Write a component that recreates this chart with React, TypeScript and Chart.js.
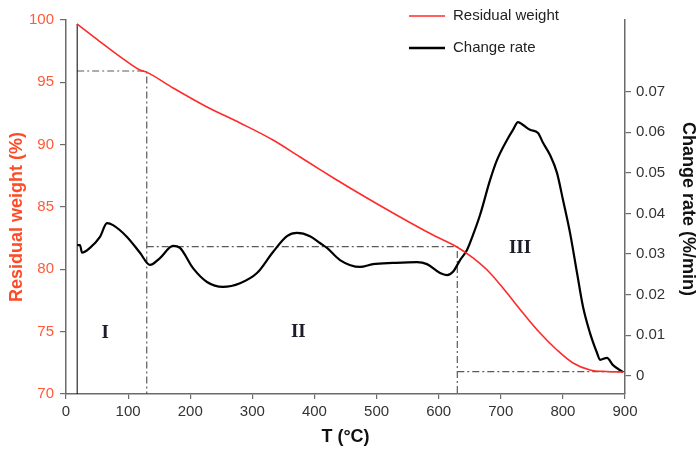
import React, { useEffect, useRef } from 'react';
import { Chart, registerables } from 'chart.js';

Chart.register(...registerables);

// Residual weight (%) vs temperature (°C)
const weightT = [17.7, 50, 83.7, 119, 130.4, 172.3, 227, 280.2, 333.3, 376.8, 409, 430, 484.6, 537.8, 590.9, 629.5, 655.3, 682.7, 710, 735.8, 763.2, 790.5, 816.3, 843.7, 870, 896.8];
const weightVals = [99.68, 98.45, 97.19, 95.99, 95.8, 94.55, 93.02, 91.74, 90.37, 89.01, 88.0, 87.35, 85.72, 84.2, 82.75, 81.79, 80.91, 79.71, 78.1, 76.5, 74.89, 73.53, 72.49, 71.93, 71.8, 71.77];

// Change rate (%/min) vs temperature (°C)
const rateT = [18, 22.5, 25.8, 38.6, 54.7, 66, 75.7, 98.2, 119.1, 135.2, 151.3, 172.3, 183.5, 204.5, 227, 252.8, 280.2, 307.5, 333.3, 355.8, 371.9, 392.8, 408.9, 420.2, 441.1, 473.3, 494.3, 526.5, 565.1, 581.2, 602.2, 613.4, 623.1, 634.4, 645.6, 655.3, 666.6, 682.7, 694, 710, 719.7, 727.8, 735.8, 747.1, 760, 768, 779.3, 790.5, 800.2, 811.5, 822.8, 832.4, 843.7, 855, 859.8, 871, 880.7, 896.8];
const rateVals = [0.0322, 0.0322, 0.0303, 0.0315, 0.0342, 0.0376, 0.0371, 0.0342, 0.0303, 0.0273, 0.029, 0.032, 0.0315, 0.0265, 0.0231, 0.0219, 0.0228, 0.0253, 0.0305, 0.0344, 0.0352, 0.0344, 0.0327, 0.0315, 0.0285, 0.0268, 0.0275, 0.0278, 0.028, 0.0275, 0.0253, 0.0248, 0.0256, 0.0285, 0.031, 0.0347, 0.0396, 0.0482, 0.0532, 0.0581, 0.0606, 0.0625, 0.0618, 0.0606, 0.0598, 0.0574, 0.0544, 0.05, 0.0433, 0.0352, 0.0253, 0.017, 0.0105, 0.0056, 0.0039, 0.0044, 0.0026, 0.0009];

// Start marker line (left axis)
const startT = [18, 18];
const startW = [70, 99.68];

// Stage boundary guides
const guide1T = [18, 130, 130];
const guide1W = [95.91, 95.91, 70];
const guide2T = [130, 630, 630];
const guide2W = [81.82, 81.82, 70];
const guide3T = [630, 900];
const guide3R = [0.001, 0.001];

// Stage labels
const stageNames = ['I', 'II', 'III'];
const stageT = [63, 374, 731];
const stageW = [74.9, 74.95, 81.7];

// Tick values
const tempTicks = [0, 100, 200, 300, 400, 500, 600, 700, 800, 900];
const weightTicks = [70, 75, 80, 85, 90, 95, 100];
const rateTicks = [0, 0.01, 0.02, 0.03, 0.04, 0.05, 0.06, 0.07];

const legendLabels = ['Residual weight', 'Change rate'];

const pts = (xs: number[], ys: number[]) => xs.map((x, i) => ({ x, y: ys[i] }));

const RED = '#ff2a2a';
const GUIDE = '#5a5a5a';
const AXIS = '#6b6b6b';
const FONT = '"Liberation Sans", Arial, sans-serif';

const overlay = {
  id: 'overlay',
  afterDraw(chart: any) {
    const { ctx, chartArea, scales } = chart;
    const xS = scales.x;
    const yS = scales.y;
    ctx.save();
    // stage labels
    ctx.font = 'bold 19px "Liberation Serif", "Times New Roman", serif';
    ctx.fillStyle = '#1c1c2a';
    ctx.textAlign = 'center';
    ctx.textBaseline = 'middle';
    stageNames.forEach((n, i) => {
      ctx.fillText(n, xS.getPixelForValue(stageT[i]), yS.getPixelForValue(stageW[i]));
    });
    // axis titles
    ctx.font = 'bold 18px ' + FONT;
    ctx.fillStyle = '#ff4a26';
    ctx.save();
    ctx.translate(17.5, 217);
    ctx.rotate(-Math.PI / 2);
    ctx.fillText('Residual weight (%)', 0, 0);
    ctx.restore();
    ctx.fillStyle = '#111';
    ctx.save();
    ctx.translate(688, (chartArea.top + chartArea.bottom) / 2 + 2);
    ctx.rotate(Math.PI / 2);
    ctx.fillText('Change rate (%/min)', 0, 0);
    ctx.restore();
    ctx.fillText('T (\u00b0C)', (chartArea.left + chartArea.right) / 2, 437);
    // legend
    const lx = 409;
    const ly = [16, 48];
    const colors = [RED, '#000'];
    const widths = [1.5, 2.5];
    ctx.font = '15px ' + FONT;
    ctx.textAlign = 'left';
    legendLabels.forEach((lab, i) => {
      ctx.beginPath();
      ctx.strokeStyle = colors[i];
      ctx.lineWidth = widths[i];
      ctx.moveTo(lx, ly[i]);
      ctx.lineTo(lx + 36, ly[i]);
      ctx.stroke();
      ctx.fillStyle = '#222';
      ctx.fillText(lab, lx + 44, ly[i]);
    });
    ctx.restore();
  },
};

export default function App() {
  const ref = useRef<HTMLCanvasElement>(null);
  useEffect(() => {
    const canvas = ref.current;
    if (!canvas) return;
    const guideStyle = {
      borderColor: GUIDE,
      borderWidth: 1.2,
      borderDash: [7, 3, 2, 3],
      pointRadius: 0,
      fill: false,
      tension: 0,
    };
    const chart = new Chart(canvas, {
      type: 'line',
      data: {
        datasets: [
          { label: 'Residual weight', data: pts(weightT, weightVals), yAxisID: 'y', borderColor: RED, borderWidth: 1.6, pointRadius: 0, cubicInterpolationMode: 'monotone', order: 0 },
          { label: 'Change rate', data: pts(rateT, rateVals), yAxisID: 'y1', borderColor: '#000', borderWidth: 2.2, pointRadius: 0, cubicInterpolationMode: 'monotone', order: 1 },
          { label: 'start', data: pts(startT, startW), yAxisID: 'y', borderColor: '#000', borderWidth: 1, pointRadius: 0, order: 2 },
          { label: 'g1', data: pts(guide1T, guide1W), yAxisID: 'y', ...guideStyle, order: 3 },
          { label: 'g2', data: pts(guide2T, guide2W), yAxisID: 'y', ...guideStyle, order: 3 },
          { label: 'g3', data: pts(guide3T, guide3R), yAxisID: 'y1', ...guideStyle, order: 3 },
        ] as any,
      },
      options: {
        responsive: false,
        animation: false,
        layout: { padding: { top: 20, left: 0, right: 0, bottom: 0 } },
        plugins: { legend: { display: false }, tooltip: { enabled: false } },
        scales: {
          x: {
            type: 'linear',
            position: 'bottom',
            min: 0,
            max: 900,
            afterBuildTicks: (s: any) => { s.ticks = tempTicks.map((v) => ({ value: v })); },
            afterFit: (s: any) => { s.height = 55; },
            ticks: { color: '#333', font: { family: FONT, size: 15 }, padding: 4, maxRotation: 0 },
            grid: { drawOnChartArea: false, tickLength: 5, color: AXIS, lineWidth: 1.2 },
            border: { color: AXIS, width: 1.5 },
          },
          y: {
            type: 'linear',
            position: 'left',
            min: 70,
            max: 100,
            afterBuildTicks: (s: any) => { s.ticks = weightTicks.map((v) => ({ value: v })); },
            afterFit: (s: any) => { s.width = 66; },
            ticks: { color: '#ff5a38', font: { family: FONT, size: 15 }, padding: 6 },
            grid: { drawOnChartArea: false, tickLength: 6, color: AXIS, lineWidth: 1.2 },
            border: { color: AXIS, width: 1.5 },
          },
          y1: {
            type: 'linear',
            position: 'right',
            min: -0.00451,
            max: 0.08767,
            afterBuildTicks: (s: any) => { s.ticks = rateTicks.map((v) => ({ value: v })); },
            afterFit: (s: any) => { s.width = 73; },
            ticks: {
              color: '#333',
              font: { family: FONT, size: 15 },
              padding: 5,
              callback: (v: any) => (Number(v) === 0 ? '0' : Number(v).toFixed(2)),
            },
            grid: { drawOnChartArea: false, tickLength: 6, color: AXIS, lineWidth: 1.2 },
            border: { color: AXIS, width: 1.5 },
          },
        },
      } as any,
      plugins: [overlay],
    });
    return () => chart.destroy();
  }, []);
  return (
    <div style={{ position: 'fixed', left: 0, top: 0, width: 698, height: 449, background: '#fff' }}>
      <canvas ref={ref} width={698} height={449} style={{ display: 'block' }} />
    </div>
  );
}
